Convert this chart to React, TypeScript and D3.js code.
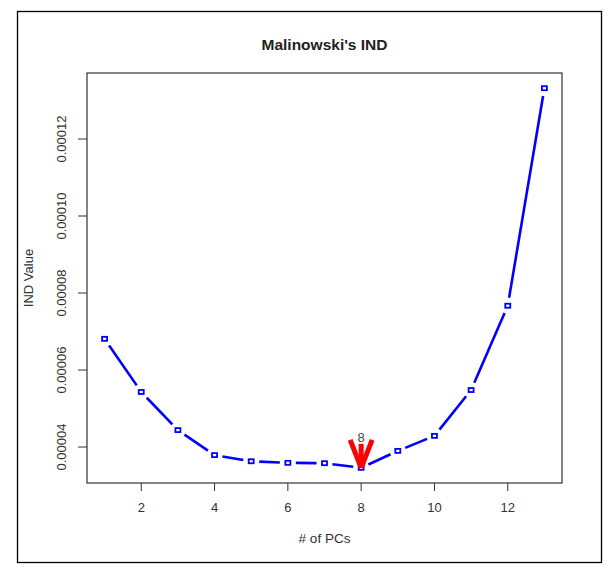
import React from "react";
import * as d3 from "d3";

const pcs = [1, 2, 3, 4, 5, 6, 7, 8, 9, 10, 11, 12, 13];
const indValues = [
  0.0000681, 0.0000543, 0.0000444, 0.0000379, 0.0000363, 0.0000359, 0.0000358,
  0.0000346, 0.000039, 0.0000429, 0.0000548, 0.0000767, 0.0001332,
];
const xTicks = [2, 4, 6, 8, 10, 12];
const yTicks = [0.00004, 0.00006, 0.00008, 0.0001, 0.00012];
const yTickLabels = ["0.00004", "0.00006", "0.00008", "0.00010", "0.00012"];
const chosenPC = 8;
const title = "Malinowski's IND";
const xTitle = "# of PCs";
const yTitle = "IND Value";

const W = 612;
const H = 571;
const plot = { left: 87, right: 562, top: 73, bottom: 483 };
const FONT = "Arial, 'Liberation Sans', Helvetica, sans-serif";

export default function App() {
  const xExt = d3.extent(pcs) as [number, number];
  const yExt = d3.extent(indValues) as [number, number];
  const xPad = (xExt[1] - xExt[0]) * 0.04;
  const yPad = (yExt[1] - yExt[0]) * 0.04;
  const x = d3.scaleLinear().domain([xExt[0] - xPad, xExt[1] + xPad]).range([plot.left, plot.right]);
  const y = d3.scaleLinear().domain([yExt[0] - yPad, yExt[1] + yPad]).range([plot.bottom, plot.top]);

  const pts = pcs.map((p, i) => [x(p), y(indValues[i])] as [number, number]);
  const gap = 8;
  const segs: string[] = [];
  for (let i = 0; i < pts.length - 1; i++) {
    const [x0, y0] = pts[i];
    const [x1, y1] = pts[i + 1];
    const dx = x1 - x0, dy = y1 - y0;
    const len = Math.hypot(dx, dy);
    if (len <= 2 * gap) continue;
    const ux = dx / len, uy = dy / len;
    segs.push(
      d3.line()([
        [x0 + ux * gap, y0 + uy * gap],
        [x1 - ux * gap, y1 - uy * gap],
      ]) as string
    );
  }

  const ci = pcs.indexOf(chosenPC);
  const tipX = x(chosenPC);
  const tipY = y(indValues[ci]);

  return (
    <svg width={W} height={H} style={{ position: "absolute", left: 0, top: 0, background: "#fff" }}>
      <rect x={0} y={0} width={W} height={H} fill="#fff" />
      <rect x={17.5} y={11.5} width={584} height={551} fill="none" stroke="#000" strokeWidth={1.3} />
      <text x={(plot.left + plot.right) / 2} y={50} textAnchor="middle" fontFamily={FONT} fontWeight="bold" fontSize={15.5} fill="#222">
        {title}
      </text>
      <rect x={plot.left} y={plot.top} width={plot.right - plot.left} height={plot.bottom - plot.top} fill="none" stroke="#333" strokeWidth={1.2} />
      {xTicks.map((t) => (
        <g key={"xt" + t}>
          <line x1={x(t)} x2={x(t)} y1={plot.bottom} y2={plot.bottom + 8} stroke="#333" strokeWidth={1} />
          <text x={x(t)} y={512} textAnchor="middle" fontFamily={FONT} fontSize={13} fill="#333">
            {t}
          </text>
        </g>
      ))}
      {yTicks.map((t, i) => (
        <g key={"yt" + t}>
          <line x1={plot.left - 9} x2={plot.left} y1={y(t)} y2={y(t)} stroke="#333" strokeWidth={1} />
          <text
            transform={`translate(66,${y(t)}) rotate(-90)`}
            textAnchor="middle"
            fontFamily={FONT}
            fontSize={13}
            fill="#333"
          >
            {yTickLabels[i]}
          </text>
        </g>
      ))}
      <text x={(plot.left + plot.right) / 2} y={543} textAnchor="middle" fontFamily={FONT} fontSize={13.5} fill="#333">
        {xTitle}
      </text>
      <text transform={`translate(33,${(plot.top + plot.bottom) / 2}) rotate(-90)`} textAnchor="middle" fontFamily={FONT} fontSize={13} fill="#333">
        {yTitle}
      </text>
      {segs.map((d, i) => (
        <path key={"s" + i} d={d} fill="none" stroke="#0000ff" strokeWidth={2.6} />
      ))}
      {pts.map(([px, py], i) => (
        <rect key={"p" + i} x={px - 2.5} y={py - 2} width={5} height={4} fill="#fff" stroke="#0000ff" strokeWidth={1.8} />
      ))}
      <g stroke="#ff0000" strokeWidth={5} strokeLinecap="butt" fill="none">
        <line x1={tipX - 11} y1={tipY - 28} x2={tipX} y2={tipY} />
        <line x1={tipX + 11} y1={tipY - 28} x2={tipX} y2={tipY} />
        <line x1={tipX} y1={tipY - 24} x2={tipX} y2={tipY} />
      </g>
      <text x={tipX} y={tipY - 26} textAnchor="middle" fontFamily={FONT} fontSize={13} fill="#444">
        {chosenPC}
      </text>
    </svg>
  );
}
